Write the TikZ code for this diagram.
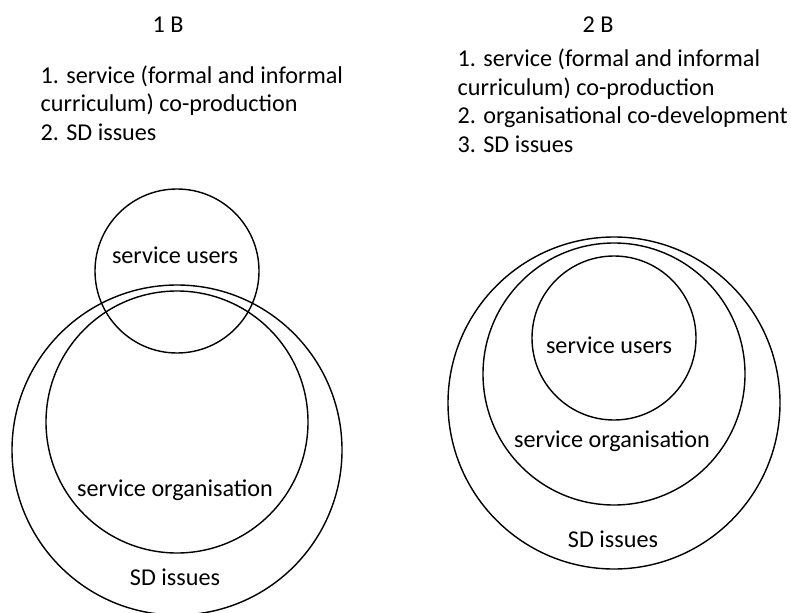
\documentclass[tikz,border=0pt]{standalone}
\usepackage{fontspec}
\setmainfont{Carlito}
\begin{document}
\begin{tikzpicture}[line width=1pt, font=\fontsize{17.2}{20.4}\selectfont]
\useasboundingbox (0,0) rectangle (19.775,-15.3);
% headings
\node (headA) at (4.2,-.625){1 B};
\node (headB) at (14.95,-.625){2 B};
\node[align=left,anchor=north west,inner sep=0] (listA) at (1,-1.62){1. service (formal and informal\\curriculum) co-production\\2. SD issues};
\node[align=left,anchor=north west,inner sep=0] (listB) at (11.425,-1.2){1. service (formal and informal\\curriculum) co-production\\2. organisational co-development\\3. SD issues};
% 1 B
\draw (4.425,-6.775) circle (2.05);
\draw (4.425,-10.55) circle (3.275);
\draw (4.425,-11.25) circle (4.125);
\node (usersA) at (4.375,-6.375){service users};
\node (orgA) at (4.375,-12.25){service organisation};
\node (sdA) at (4.375,-14.425){SD issues};
% 2 B
\draw (15.35,-10.075) circle (4.15);
\draw (15.35,-9.35) circle (3.275);
\draw (15.35,-8.45) circle (2.05);
\node (usersB) at (15.225,-8.625){service users};
\node (orgB) at (15.3,-11.025){service organisation};
\node (sdB) at (15.325,-13.475){SD issues};
\end{tikzpicture}
\end{document}
